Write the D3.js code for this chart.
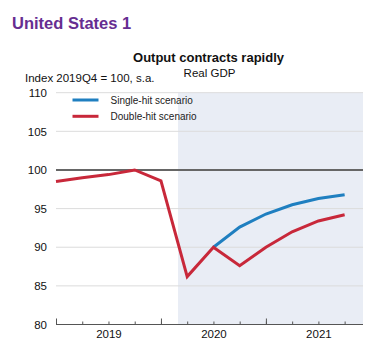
<!DOCTYPE html>
<html><head><meta charset="utf-8">
<script src="https://cdn.jsdelivr.net/npm/d3@7"></script>
<style>body{margin:0;background:#fff}svg{display:block;font-family:"Liberation Sans",Arial,sans-serif}</style>
</head><body><svg id="c" width="383" height="361"></svg>
<script>
const quarters = ["2019Q1","2019Q2","2019Q3","2019Q4","2020Q1","2020Q2","2020Q3","2020Q4","2021Q1","2021Q2","2021Q3","2021Q4"];
const yearLabels = ["2019","2020","2021"];
const yearLabelPos = [2, 6, 10];
const yearStarts = [0, 4, 8];
const singleHit = [98.5, 99.0, 99.4, 100.0, 98.6, 86.2, 90.0, 92.6, 94.3, 95.5, 96.3, 96.8];
const doubleHit = [98.5, 99.0, 99.4, 100.0, 98.6, 86.2, 90.0, 87.6, 90.0, 92.0, 93.4, 94.2];
const singleStart = 6;
const yTicks = [80, 85, 90, 95, 100, 105, 110];
const shadeStart = 4.65;
const xMax = 11.7;

const svg = d3.select("#c");
const L = 56, R = 363, T = 92.7, B = 324.5;
const x = d3.scaleLinear().domain([0, xMax]).range([L, R]);
const y = d3.scaleLinear().domain([80, 110]).range([B, T]);

svg.append("text").attr("x", 12).attr("y", 28.5).attr("fill", "#662d91")
  .attr("font-weight", "bold").attr("font-size", 16.5).text("United States 1");
svg.append("text").attr("x", 208.5).attr("y", 62).attr("text-anchor", "middle")
  .attr("font-weight", "bold").attr("font-size", 13).attr("fill", "#111").text("Output contracts rapidly");
svg.append("text").attr("x", 209.5).attr("y", 76.5).attr("text-anchor", "middle")
  .attr("font-size", 11.5).attr("fill", "#111").text("Real GDP");
svg.append("text").attr("x", 25).attr("y", 82).attr("font-size", 11.5).attr("fill", "#111")
  .text("Index 2019Q4 = 100, s.a.");

// shaded forecast area
svg.append("rect").attr("x", x(shadeStart)).attr("y", y(110)).attr("width", x(xMax) - x(shadeStart))
  .attr("height", y(80) - y(110)).attr("fill", "#e9edf5");

// gridlines
svg.append("g").selectAll("line").data(yTicks.filter(v => v !== 80 && v !== 100)).join("line")
  .attr("x1", L).attr("x2", R).attr("y1", d => y(d)).attr("y2", d => y(d))
  .attr("stroke", "#dcdcdc").attr("stroke-width", 1);

// y labels
const yAxis = svg.append("g").attr("transform", `translate(${L},0)`)
  .call(d3.axisLeft(y).tickValues(yTicks).tickSize(0).tickPadding(9));
yAxis.select(".domain").remove();
yAxis.selectAll("text").attr("font-size", 11.5).attr("fill", "#111").attr("font-family", "Liberation Sans, Arial, sans-serif");

// 100 line
svg.append("line").attr("x1", L).attr("x2", R).attr("y1", y(100)).attr("y2", y(100))
  .attr("stroke", "#666").attr("stroke-width", 2);

// x axis
const qIdx = quarters.map((q, i) => i);
const xMinor = svg.append("g").attr("transform", `translate(0,${B})`)
  .call(d3.axisBottom(x).tickValues(qIdx).tickSize(-3).tickFormat(""));
xMinor.select(".domain").attr("stroke", "#555").attr("stroke-width", 1.2).attr("d", `M${L},0H${R}`);
xMinor.selectAll(".tick line").attr("stroke", "#555");
const xMajor = svg.append("g").attr("transform", `translate(0,${B})`)
  .call(d3.axisBottom(x).tickValues(yearStarts).tickSize(-6).tickFormat(""));
xMajor.select(".domain").remove();
xMajor.selectAll(".tick line").attr("stroke", "#555");
const xLab = svg.append("g").attr("transform", `translate(0,${B})`)
  .call(d3.axisBottom(x).tickValues(yearLabelPos).tickSize(0).tickPadding(5)
    .tickFormat((d, i) => yearLabels[i]));
xLab.select(".domain").remove();
xLab.selectAll("text").attr("font-size", 11.5).attr("fill", "#111").attr("font-family", "Liberation Sans, Arial, sans-serif");

// lines
const line = d3.line().x(d => x(d[0])).y(d => y(d[1]));
const redC = "#c8283a", blueC = "#1f7fc0";
svg.append("path").datum(singleHit.map((v, i) => [i, v]).filter(d => d[0] >= singleStart))
  .attr("d", line).attr("fill", "none").attr("stroke", blueC).attr("stroke-width", 3);
svg.append("path").datum(doubleHit.map((v, i) => [i, v]))
  .attr("d", line).attr("fill", "none").attr("stroke", redC).attr("stroke-width", 3)
  .attr("stroke-linejoin", "miter");

// legend
const leg = [["Single-hit scenario", blueC], ["Double-hit scenario", redC]];
leg.forEach((l, i) => {
  const yy = 100 + i * 16.3;
  svg.append("line").attr("x1", 72.5).attr("x2", 98.5).attr("y1", yy).attr("y2", yy)
    .attr("stroke", l[1]).attr("stroke-width", 3);
  svg.append("text").attr("x", 110.5).attr("y", yy + 3.5).attr("font-size", 10).attr("fill", "#222").text(l[0]);
});
</script></body></html>
